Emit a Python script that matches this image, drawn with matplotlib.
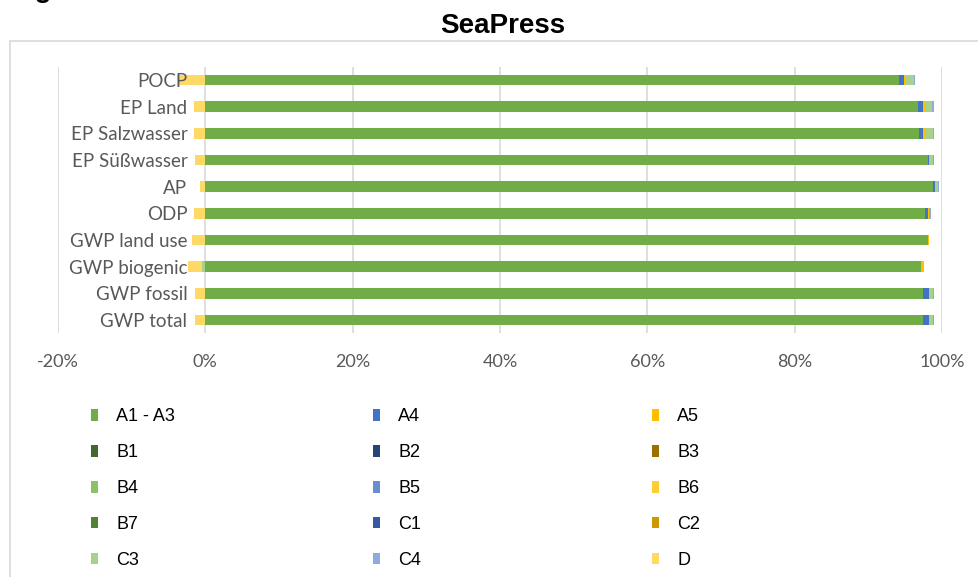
import matplotlib
matplotlib.use("Agg")
import matplotlib.pyplot as plt
from matplotlib.patches import Rectangle, Patch

# categories bottom -> top
cats = ["GWP total", "GWP fossil", "GWP biogenic", "GWP land use", "ODP",
        "AP", "EP Süßwasser", "EP Salzwasser", "EP Land", "POCP"]

modules = ["A1 - A3", "A4", "A5", "B1", "B2", "B3", "B4", "B5", "B6",
           "B7", "C1", "C2", "C3", "C4", "D"]
colors = ["#70AD47", "#4472C4", "#FFC000", "#43682B", "#264478", "#997300",
          "#8CC168", "#698ED0", "#FFCD33", "#548235", "#335AA1", "#CC9A00",
          "#A9D18E", "#8FAADC", "#FFD966"]

# shares in %, one list per module, same order as cats
a1_a3 = [97.4, 97.4, 97.1, 98.1, 97.7, 98.8, 98.1, 96.9, 96.7, 94.2]
a4    = [0.8, 0.8, 0.0, 0.0, 0.4, 0.3, 0.15, 0.5, 0.7, 0.7]
a5    = [0.15, 0.15, 0.4, 0.15, 0.1, 0.1, 0.0, 0.3, 0.3, 0.2]
b1 = [0] * 10
b2 = [0] * 10
b3 = [0] * 10
b4 = [0] * 10
b5 = [0] * 10
b6 = [0] * 10
b7 = [0] * 10
c1 = [0] * 10
c2 = [0] * 10
c3    = [0.4, 0.4, -0.5, 0.0, 0.0, 0.3, 0.5, 1.1, 1.0, 1.1]
c4    = [0.15, 0.15, 0.0, 0.0, 0.25, 0.15, 0.15, 0.15, 0.15, 0.15]
d     = [-1.4, -1.4, -1.8, -1.8, -1.6, -0.7, -1.4, -1.6, -1.5, -3.8]

series = [a1_a3, a4, a5, b1, b2, b3, b4, b5, b6, b7, c1, c2, c3, c4, d]

W, H = 979, 577
fig = plt.figure(figsize=(W / 100, H / 100), dpi=100)

# outer frame
fig.patches.append(Rectangle((10 / W, -0.05), 1.1, 1 - 41 / H + 0.05,
                             transform=fig.transFigure, fill=False,
                             edgecolor="#D9D9D9", lw=1.2))
fig.text(10 / W, 1 + 3 / H, "Fig. 3", fontsize=20, fontweight="bold",
         family="Liberation Sans", va="baseline", ha="left")
fig.text(503 / W, 1 - 26 / H, "SeaPress", fontsize=20, fontweight="bold",
         family="Liberation Sans", ha="center", va="center")

ax = fig.add_axes([58 / W, 1 - 333.3 / H, (942 - 58) / W, (333.3 - 66.7) / H])
y = list(range(len(cats)))
pos = [0.0] * len(cats)
neg = [0.0] * len(cats)
handles = []
for vals, col, name in zip(series, colors, modules):
    v = [x / 100 for x in vals]
    left = [neg[i] if v[i] < 0 else pos[i] for i in range(len(v))]
    ax.barh(y, v, left=left, height=0.4, color=col, zorder=2)
    for i in range(len(v)):
        if v[i] < 0:
            neg[i] += v[i]
        else:
            pos[i] += v[i]
    handles.append(Patch(facecolor=col, label=name))

ax.set_xlim(-0.2, 1.0)
ax.set_ylim(-0.5, 9.5)
ax.set_xticks([-0.2, 0, 0.2, 0.4, 0.6, 0.8, 1.0])
ax.set_xticklabels(["-20%", "0%", "20%", "40%", "60%", "80%", "100%"])
ax.set_yticks(y)
ax.set_yticklabels(cats)
ax.grid(axis="x", color="#D9D9D9", lw=1.2)
for s in ax.spines.values():
    s.set_visible(False)
ax.spines["left"].set_position(("data", 0))
ax.yaxis.set_zorder(3)
ax.tick_params(axis="both", length=0, colors="#595959")
ax.tick_params(axis="x", pad=15, labelsize=13)
ax.tick_params(axis="y", pad=13, labelsize=13.5)
for t in ax.get_xticklabels() + ax.get_yticklabels():
    t.set_family("Lato")

# legend: three columns, filled row-wise
col_x = [75, 357, 636]
for c in range(3):
    hs = handles[c::3]
    fig.legend(handles=hs, loc="upper left",
               bbox_to_anchor=(col_x[c] / W, 1 - 392 / H),
               frameon=False, handlelength=0.38, handleheight=0.6,
               handletextpad=1.0, labelspacing=1.05,
               prop={"family": "Liberation Sans", "size": 13})

fig.savefig("out.png", dpi=100)
